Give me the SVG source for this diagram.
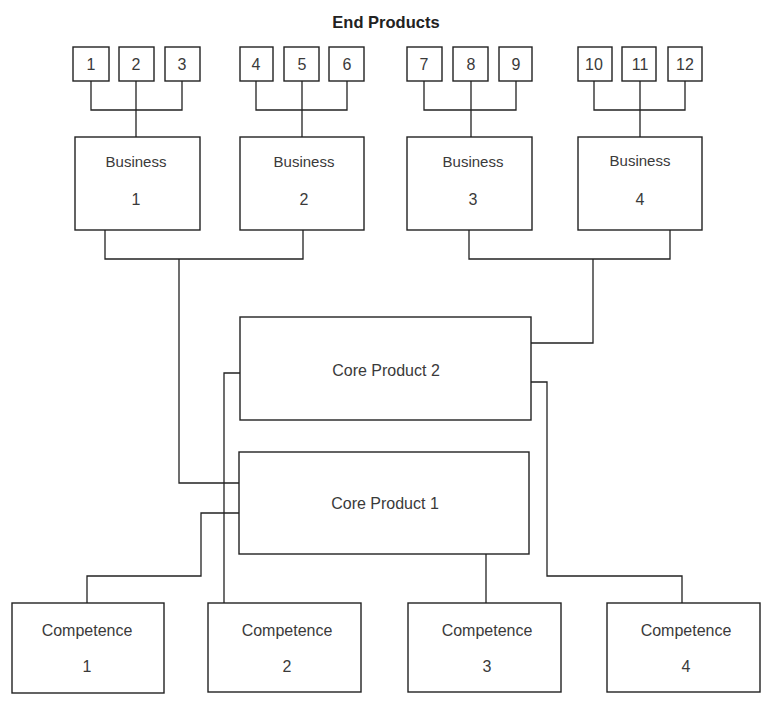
<svg xmlns="http://www.w3.org/2000/svg" width="772" height="705" viewBox="0 0 772 705">
<style>
.box{fill:#fff;stroke:#222;stroke-width:1.4}
.ln{fill:none;stroke:#222;stroke-width:1.3}
text{font-family:"Liberation Sans",Arial,sans-serif;fill:#3a3a3a;text-anchor:middle}
.t{font-size:15px}
.n{font-size:16px}
.c{font-size:16px}
.title{font-size:16.5px;font-weight:bold;fill:#222}
</style>
<rect width="772" height="705" fill="#fff"/>
<text class="title" x="386" y="28">End Products</text>
<g id="connectors">
<path class="ln" d="M91,81V110H182V81M136,81V137"/>
<path class="ln" d="M256,81V110H347V81M302,81V137"/>
<path class="ln" d="M424,81V110H516V81M471,81V137"/>
<path class="ln" d="M594,81V110H685V81M640,81V137"/>
<path class="ln" d="M105,230V259H303V230M179,259V483H239"/>
<path class="ln" d="M469,230V259H670V230M593,259V343H531"/>
<path class="ln" d="M240,373H224V603"/>
<path class="ln" d="M239,513H201V576H87V603"/>
<path class="ln" d="M531,382H547V576H682V603"/>
<path class="ln" d="M486,554V603"/>
</g>
<g id="ep1"><rect class="box" x="73" y="47" width="36" height="34"/><text class="n" x="91" y="70">1</text></g>
<g id="ep2"><rect class="box" x="119" y="47" width="35" height="34"/><text class="n" x="136" y="70">2</text></g>
<g id="ep3"><rect class="box" x="165" y="47" width="35" height="34"/><text class="n" x="182" y="70">3</text></g>
<g id="ep4"><rect class="box" x="240" y="47" width="33" height="34"/><text class="n" x="256" y="70">4</text></g>
<g id="ep5"><rect class="box" x="284" y="47" width="35" height="34"/><text class="n" x="302" y="70">5</text></g>
<g id="ep6"><rect class="box" x="329" y="47" width="35" height="34"/><text class="n" x="347" y="70">6</text></g>
<g id="ep7"><rect class="box" x="407" y="47" width="35" height="34"/><text class="n" x="424" y="70">7</text></g>
<g id="ep8"><rect class="box" x="453" y="47" width="35" height="34"/><text class="n" x="471" y="70">8</text></g>
<g id="ep9"><rect class="box" x="499" y="47" width="33" height="34"/><text class="n" x="516" y="70">9</text></g>
<g id="ep10"><rect class="box" x="578" y="47" width="34" height="34"/><text class="n" x="594" y="70">10</text></g>
<g id="ep11"><rect class="box" x="622" y="47" width="34" height="34"/><text class="n" x="640" y="70">11</text></g>
<g id="ep12"><rect class="box" x="668" y="47" width="34" height="34"/><text class="n" x="685" y="70">12</text></g>
<g id="business1"><rect class="box" x="75" y="137" width="125" height="93"/><text class="t" x="136" y="167">Business</text><text class="n" x="136" y="205">1</text></g>
<g id="business2"><rect class="box" x="240" y="137" width="124" height="93"/><text class="t" x="304" y="167">Business</text><text class="n" x="304" y="205">2</text></g>
<g id="business3"><rect class="box" x="407" y="137" width="125" height="93"/><text class="t" x="473" y="167">Business</text><text class="n" x="473" y="205">3</text></g>
<g id="business4"><rect class="box" x="578" y="137" width="124" height="93"/><text class="t" x="640" y="166">Business</text><text class="n" x="640" y="205">4</text></g>
<g id="core2"><rect class="box" x="240" y="317" width="291" height="103"/><text class="c" x="386" y="376">Core Product 2</text></g>
<g id="core1"><rect class="box" x="239" y="452" width="290" height="102"/><text class="c" x="385" y="509">Core Product 1</text></g>
<g id="comp1"><rect class="box" x="12" y="603" width="152" height="90"/><text class="c" x="87" y="636">Competence</text><text class="c" x="87" y="672">1</text></g>
<g id="comp2"><rect class="box" x="208" y="603" width="153" height="89"/><text class="c" x="287" y="636">Competence</text><text class="c" x="287" y="672">2</text></g>
<g id="comp3"><rect class="box" x="408" y="603" width="153" height="89"/><text class="c" x="487" y="636">Competence</text><text class="c" x="487" y="672">3</text></g>
<g id="comp4"><rect class="box" x="607" y="603" width="153" height="89"/><text class="c" x="686" y="636">Competence</text><text class="c" x="686" y="672">4</text></g>
</svg>
